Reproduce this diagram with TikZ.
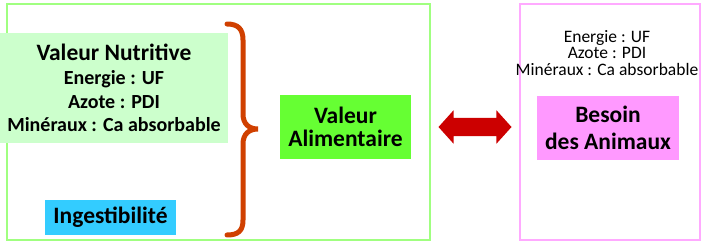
\documentclass[tikz,border=0pt]{standalone}
\usepackage{fontspec}
\setmainfont{Carlito}
\usepackage{xcolor}
\usepackage{tikz}
\usetikzlibrary{shapes.arrows}
\definecolor{cadrevert}{RGB}{160,255,128}
\definecolor{cadrerose}{RGB}{255,170,255}
\definecolor{vertpale}{RGB}{204,255,204}
\definecolor{vertvif}{RGB}{102,255,51}
\definecolor{bleuciel}{RGB}{51,204,255}
\definecolor{rosevif}{RGB}{255,153,255}
\definecolor{rougefleche}{RGB}{204,0,0}
\definecolor{orangeaccolade}{RGB}{208,64,0}
\tikzset{
  boite/.style={inner sep=0pt, align=center, font=\bfseries\fontsize{23.5}{22.5}\selectfont},
  accolade/.style={draw=orangeaccolade, line width=5pt, line cap=round}
}

\begin{document}
\begin{tikzpicture}[x=1pt,y=-1pt]
  \useasboundingbox (0,0) rectangle (707,251);
  % les deux cadres
  \draw[cadrevert, line width=1.2pt] (7,4) rectangle (430,240);
  \draw[cadrerose, line width=1.2pt] (520,4) rectangle (700,240);
  % valeur nutritive et ingestibilite
  \node[boite, fill=vertpale, minimum width=228, minimum height=110,
    font=\bfseries\fontsize{20}{23.5}\selectfont] (nutri) at (114,88)
    {{\fontsize{23.5}{26}\selectfont Valeur Nutritive}\\[1pt]Energie : UF\\Azote : PDI\\Minéraux : Ca absorbable};
  \node[boite, fill=bleuciel, minimum width=131, minimum height=35] (ingest) at (110.5,217.5) {Ingestibilité};
  \draw[accolade] (227,24) .. controls (238,24) and (243,29) .. (243,40) -- (243,114)
    .. controls (243,124) and (249,129) .. (258,129)
    .. controls (249,129) and (243,134) .. (243,144) -- (243,220)
    .. controls (243,231) and (238,235) .. (227,235);
  \node[boite, fill=vertvif, minimum width=131, minimum height=64] (alim) at (345.5,127) {Valeur\\Alimentaire};
  % double fleche
  \node[double arrow, fill=rougefleche, inner xsep=0pt, inner ysep=9pt, minimum width=33, minimum height=73,
    double arrow head extend=7.5, double arrow tip angle=96] (lien) at (475,127) {};
  % besoins
  \node[align=center, inner sep=0pt, font=\fontsize{17.5}{16.7}\selectfont] (apports) at (607,53)
    {Energie : UF\\Azote : PDI\\Minéraux : Ca absorbable};
  \node[boite, fill=rosevif, minimum width=142, minimum height=64] (besoin) at (608,128) {Besoin\\[4pt]des Animaux};
\end{tikzpicture}
\end{document}
